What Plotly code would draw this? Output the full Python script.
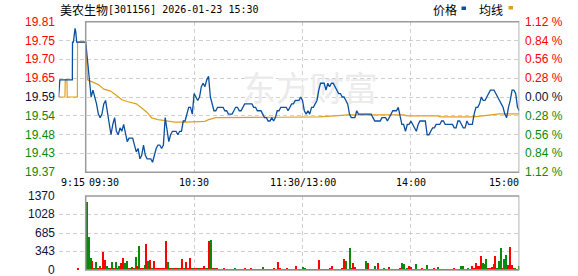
import plotly.graph_objects as go

# ---------------- data ----------------
title_name = "美农生物"
title_rest = "[301156] 2026-01-23 15:30"
legend_names = ["价格", "均线"]
prev_close = 19.59
pct_levels = [1.12, 0.84, 0.56, 0.28, 0.00, -0.28, -0.56, -0.84, -1.12]
price_labels = ["19.81", "19.75", "19.70", "19.65", "19.59", "19.54", "19.48", "19.43", "19.37"]
pct_labels = ["1.12 %", "0.84 %", "0.56 %", "0.28 %", "0.00 %", "0.28 %", "0.56 %", "0.84 %", "1.12 %"]
vol_ticks = [0, 343, 685, 1028, 1370]
vol_labels = ["0", "343", "685", "1028", "1370"]
time_ticks = [-15, 0, 60, 120, 180, 240]
time_labels = ["9:15", "09:30", "10:30", "11:30/13:00", "14:00", "15:00"]

# call auction 9:15-9:30 (minutes relative to 09:30)
auction_t = [-15, -14.3, -7.4, -7.3, -6.8, -6.3, -5.9, -5.5, -5.0]
auction_price = [19.59, 19.64, 19.64, 19.75, 19.75, 19.77, 19.79, 19.78, 19.75]
auction_avg_t = [-15, -11.5, -11.3, -10.4, -10.2, -4.6, -4.5]
auction_avg = [19.59, 19.59, 19.64, 19.64, 19.59, 19.59, 19.75]
auction_vol_t = [-5]
auction_vol = [30]

# one price per minute, 09:30 .. 11:30 / 13:00 .. 15:00 (241 points)
price = [
    19.75, 19.69, 19.64, 19.59, 19.61, 19.59, 19.57, 19.54, 19.53, 19.54,
    19.57, 19.58, 19.55, 19.52, 19.48, 19.51, 19.53, 19.49, 19.48, 19.50,
    19.49, 19.51, 19.48, 19.46, 19.47, 19.47, 19.47, 19.45, 19.43, 19.44,
    19.41, 19.42, 19.45, 19.42, 19.41, 19.41, 19.41, 19.40, 19.42, 19.44,
    19.45, 19.45, 19.44, 19.45, 19.53, 19.49, 19.46, 19.48, 19.49, 19.49,
    19.49, 19.48, 19.49, 19.49, 19.52, 19.52, 19.54, 19.56, 19.56, 19.54,
    19.60, 19.59, 19.58, 19.59, 19.62, 19.63, 19.62, 19.64, 19.65, 19.59,
    19.57, 19.55, 19.55, 19.56, 19.56, 19.56, 19.56, 19.55, 19.55, 19.54,
    19.54, 19.54, 19.55, 19.56, 19.56, 19.55, 19.55, 19.56, 19.57, 19.57,
    19.57, 19.57, 19.57, 19.56, 19.56, 19.55, 19.55, 19.55, 19.54, 19.53,
    19.53, 19.52, 19.52, 19.53, 19.52, 19.53, 19.55, 19.55, 19.56, 19.56,
    19.56, 19.56, 19.55, 19.56, 19.57, 19.57, 19.58, 19.58, 19.58, 19.59,
    19.58, 19.55, 19.54, 19.55, 19.54, 19.56, 19.56, 19.57, 19.58, 19.61,
    19.63, 19.63, 19.63, 19.61, 19.63, 19.62, 19.63, 19.63, 19.62, 19.61,
    19.60, 19.60, 19.59, 19.59, 19.58, 19.57, 19.54, 19.53, 19.53, 19.53,
    19.55, 19.54, 19.54, 19.54, 19.54, 19.54, 19.54, 19.54, 19.54, 19.53,
    19.52, 19.52, 19.52, 19.52, 19.53, 19.53, 19.53, 19.52, 19.53, 19.54,
    19.55, 19.55, 19.55, 19.56, 19.53, 19.51, 19.51, 19.49, 19.51, 19.51,
    19.52, 19.51, 19.50, 19.49, 19.51, 19.52, 19.52, 19.52, 19.52, 19.48,
    19.48, 19.49, 19.50, 19.50, 19.51, 19.51, 19.51, 19.52, 19.52, 19.51,
    19.51, 19.51, 19.51, 19.51, 19.50, 19.50, 19.52, 19.52, 19.51, 19.50,
    19.50, 19.52, 19.51, 19.51, 19.51, 19.54, 19.56, 19.56, 19.57, 19.59,
    19.58, 19.58, 19.59, 19.60, 19.61, 19.61, 19.61, 19.60, 19.59, 19.58,
    19.57, 19.56, 19.54, 19.53, 19.56, 19.58, 19.61, 19.61, 19.60, 19.56,
    19.55,
]

# average price line (read at its turning points)
avg_t = [0, 1, 3, 7, 10, 13.5, 16, 20, 23, 28, 31, 34, 36.5, 40, 44, 47, 49, 55, 66,
         68, 72, 108, 129, 138, 145, 176, 178, 195, 196, 215, 219, 225, 229, 240]
avg = [19.75, 19.64, 19.636, 19.626, 19.613, 19.608, 19.599, 19.582, 19.577, 19.570,
       19.558, 19.545, 19.529, 19.524, 19.521, 19.519, 19.517, 19.517, 19.519, 19.524,
       19.530, 19.531, 19.532, 19.535, 19.538, 19.538, 19.535, 19.535, 19.532, 19.532,
       19.535, 19.538, 19.541, 19.541]

# volume per minute (lots) and its direction (r = up, g = down)
volume = [
    1265, 617, 228, 167, 37, 148, 20, 74, 20, 333,
    185, 75, 20, 20, 148, 20, 148, 20, 74, 130,
    222, 130, 165, 20, 20, 62, 20, 240, 74, 444,
    20, 37, 93, 481, 167, 185, 20, 165, 20, 20,
    20, 20, 37, 20, 537, 150, 20, 20, 37, 20,
    20, 20, 20, 204, 20, 148, 20, 222, 20, 20,
    20, 20, 20, 20, 20, 74, 20, 20, 537, 555,
    20, 37, 20, 18, 18, 18, 25, 18, 18, 18,
    18, 18, 25, 18, 18, 18, 18, 18, 37, 18,
    18, 25, 18, 18, 18, 18, 18, 18, 62, 18,
    18, 18, 18, 18, 25, 18, 148, 37, 18, 18,
    18, 25, 18, 18, 18, 18, 75, 18, 18, 18,
    55, 37, 18, 18, 18, 18, 18, 18, 18, 185,
    18, 18, 18, 18, 18, 25, 75, 18, 18, 18,
    18, 18, 25, 205, 165, 18, 405, 25, 130, 55,
    18, 18, 18, 18, 18, 165, 130, 18, 18, 18,
    75, 18, 130, 18, 18, 25, 18, 18, 55, 18,
    18, 18, 18, 18, 25, 130, 110, 18, 25, 75,
    55, 18, 18, 110, 18, 18, 25, 18, 18, 90,
    18, 18, 18, 25, 18, 55, 18, 18, 18, 18,
    18, 18, 18, 18, 25, 18, 18, 18, 75, 75,
    18, 18, 25, 18, 75, 25, 130, 75, 75, 260,
    130, 110, 205, 20, 37, 55, 110, 260, 25, 165,
    405, 37, 205, 280, 90, 425, 90, 25, 25, 18,
    75,
]
vol_dir = ("gggrggrgrr" "rggrgrgrgr" "rggrgrggrg" "rrgrgrgrrr" "rrrrrgrggr"
           "rgrrgrrrrg" "rrgrrrgrrg" "rgrrgrrgrr" "rrgrrrgrrg" "rrgrrgrrgr"
           "rrgrrrrrgr" "rrgrrrrgrr" "ggrrgrrrgr" "rgrrgrrrrg" "rrrrggggrr"
           "rrgrrgrrrg" "grrrrgrrrg" "rrgrrggrgr" "rrrgrrrgrg" "rgrrrgrrrg"
           "rrgrrrrrgg" "rrgrrrrrrr" "gggrrrgrgg" "grggrrrrgg" "g")
auction_vol_dir = "r"

# ---------------- style ----------------
W, H = 578, 276
BLUE = "#0b4fa0"
ORANGE = "#dfa11c"
RED = "#ff0000"
GREEN = "#0a8a0a"
DARK = "#10103a"
GRID = "#cfcfcf"
BORDER = "#9a9a9a"
NUM_FONT = "Liberation Sans, Arial"
MONO_FONT = "DejaVu Sans Mono"
CJK_FONT = "Noto Sans CJK SC"

minutes = list(range(len(price)))
n = len(volume)
bar_x = [(i + 0.5) * 240 / n for i in range(n)] + [t + 0.5 for t in auction_vol_t]
bar_y = volume + auction_vol
dirs = vol_dir + auction_vol_dir
bar_c = [RED if d == "r" else GREEN for d in dirs]

levels = [prev_close * (1 + p / 100) for p in pct_levels]
ylo, yhi = min(levels), max(levels)

fig = go.Figure()

# watermark (behind lines)
fig.add_trace(go.Scatter(x=[124], y=[19.602], mode="text", text=["东方财富"],
                         textfont=dict(family=CJK_FONT, size=34, color="#ebebeb"),
                         xaxis="x", yaxis="y", hoverinfo="skip"))
fig.add_trace(go.Scatter(x=auction_avg_t + avg_t, y=auction_avg + avg, mode="lines",
                         line=dict(color=ORANGE, width=1.2), xaxis="x", yaxis="y"))
fig.add_trace(go.Scatter(x=auction_t + minutes, y=auction_price + price, mode="lines",
                         line=dict(color=BLUE, width=1.3), xaxis="x", yaxis="y"))
fig.add_trace(go.Bar(x=bar_x, y=bar_y, marker=dict(color=bar_c, line=dict(width=0)),
                     width=0.55, xaxis="x2", yaxis="y2"))

xdom = [58.6 / W, 519.3 / W]
ydom_top = [1 - 172.3 / H, 1 - 21.7 / H]
ydom_vol = [1 - 270 / H, 1 - 196 / H]

axis_common = dict(showticklabels=False, showline=False, zeroline=False, ticks="",
                   showgrid=True, gridcolor=GRID, gridwidth=1, griddash="4px,3px",
                   fixedrange=True)

fig.update_layout(
    width=W, height=H, margin=dict(l=0, r=0, t=0, b=0),
    paper_bgcolor="white", plot_bgcolor="white", showlegend=False,
    bargap=0,
    xaxis=dict(domain=xdom, range=[-15, 240], tickvals=[-15, 60, 120, 180], anchor="y",
               **axis_common),
    yaxis=dict(domain=ydom_top, range=[ylo, yhi], tickvals=levels, anchor="x",
               **axis_common),
    xaxis2=dict(domain=xdom, range=[-15, 240], tickvals=[-15, 60, 120, 180], anchor="y2",
                **axis_common),
    yaxis2=dict(domain=ydom_vol, range=[0, vol_ticks[-1]], tickvals=vol_ticks, anchor="x2",
                **axis_common),
)

# frames around the continuous-trading area
fig.add_shape(type="rect", xref="x", yref="y domain", x0=0, x1=240, y0=0, y1=1,
              line=dict(color=BORDER, width=1.5), layer="above")
fig.add_shape(type="rect", xref="x2", yref="y2 domain", x0=0, x1=240, y0=0, y1=1,
              line=dict(color=BORDER, width=1.5), layer="above")

ann = []
# left price labels / right percent labels
for lv, pl, pc, p in zip(levels, price_labels, pct_labels, pct_levels):
    col = RED if p > 0 else (GREEN if p < 0 else DARK)
    ann.append(dict(x=57 / W, xref="paper", y=lv, yref="y", text=pl, showarrow=False,
                    xanchor="right", yanchor="middle",
                    font=dict(family=NUM_FONT, size=12, color=col)))
    ann.append(dict(x=523 / W, xref="paper", y=lv, yref="y", text=pc, showarrow=False,
                    xanchor="left", yanchor="middle",
                    font=dict(family=NUM_FONT, size=12, color=col)))
# volume labels
for v, t in zip(vol_ticks, vol_labels):
    ann.append(dict(x=57 / W, xref="paper", y=v, yref="y2", text=t, showarrow=False,
                    xanchor="right", yanchor="middle",
                    font=dict(family=NUM_FONT, size=12, color=DARK)))
# time labels (placed in paper space along the x axis scale)
x0_px, x1_px = 58.6, 519.3
def minute_to_paper(m):
    return (x0_px + (m + 15) / 255 * (x1_px - x0_px)) / W
anchors = ["left", "left", "center", "center", "center", "right"]
nudge = {"09:30": 1.0, "15:00": 1.5}
for tv, tl, a in zip(time_ticks, time_labels, anchors):
    xp = minute_to_paper(tv) + nudge.get(tl, 0) / W
    ann.append(dict(x=xp, xref="paper", y=1 - 182 / H, yref="paper", text=tl, showarrow=False,
                    xanchor=a, yanchor="middle",
                    font=dict(family=MONO_FONT, size=10, color="#000000")))
# title
ann.append(dict(x=57.5 / W, xref="paper", y=1 - 9.5 / H, yref="paper", text=title_name,
                showarrow=False, xanchor="left", yanchor="middle",
                font=dict(family=CJK_FONT, size=12, color="#000000")))
ann.append(dict(x=106 / W, xref="paper", y=1 - 9.5 / H, yref="paper", text=title_rest,
                showarrow=False, xanchor="left", yanchor="middle",
                font=dict(family=MONO_FONT, size=10, color="#000000")))
# legend
ann.append(dict(x=430.5 / W, xref="paper", y=1 - 9.3 / H, yref="paper", text=legend_names[0],
                showarrow=False, xanchor="left", yanchor="middle",
                font=dict(family=CJK_FONT, size=12, color="#000000")))
ann.append(dict(x=477.5 / W, xref="paper", y=1 - 9.3 / H, yref="paper", text=legend_names[1],
                showarrow=False, xanchor="left", yanchor="middle",
                font=dict(family=CJK_FONT, size=12, color="#000000")))
fig.add_shape(type="rect", xref="paper", yref="paper", x0=461.5 / W, x1=466 / W,
              y0=1 - 10 / H, y1=1 - 6.5 / H, line=dict(width=0), fillcolor=BLUE)
fig.add_shape(type="rect", xref="paper", yref="paper", x0=508.5 / W, x1=513 / W,
              y0=1 - 9.5 / H, y1=1 - 6 / H, line=dict(width=0), fillcolor=ORANGE)

fig.update_layout(annotations=ann)
fig.write_html("out.html")
